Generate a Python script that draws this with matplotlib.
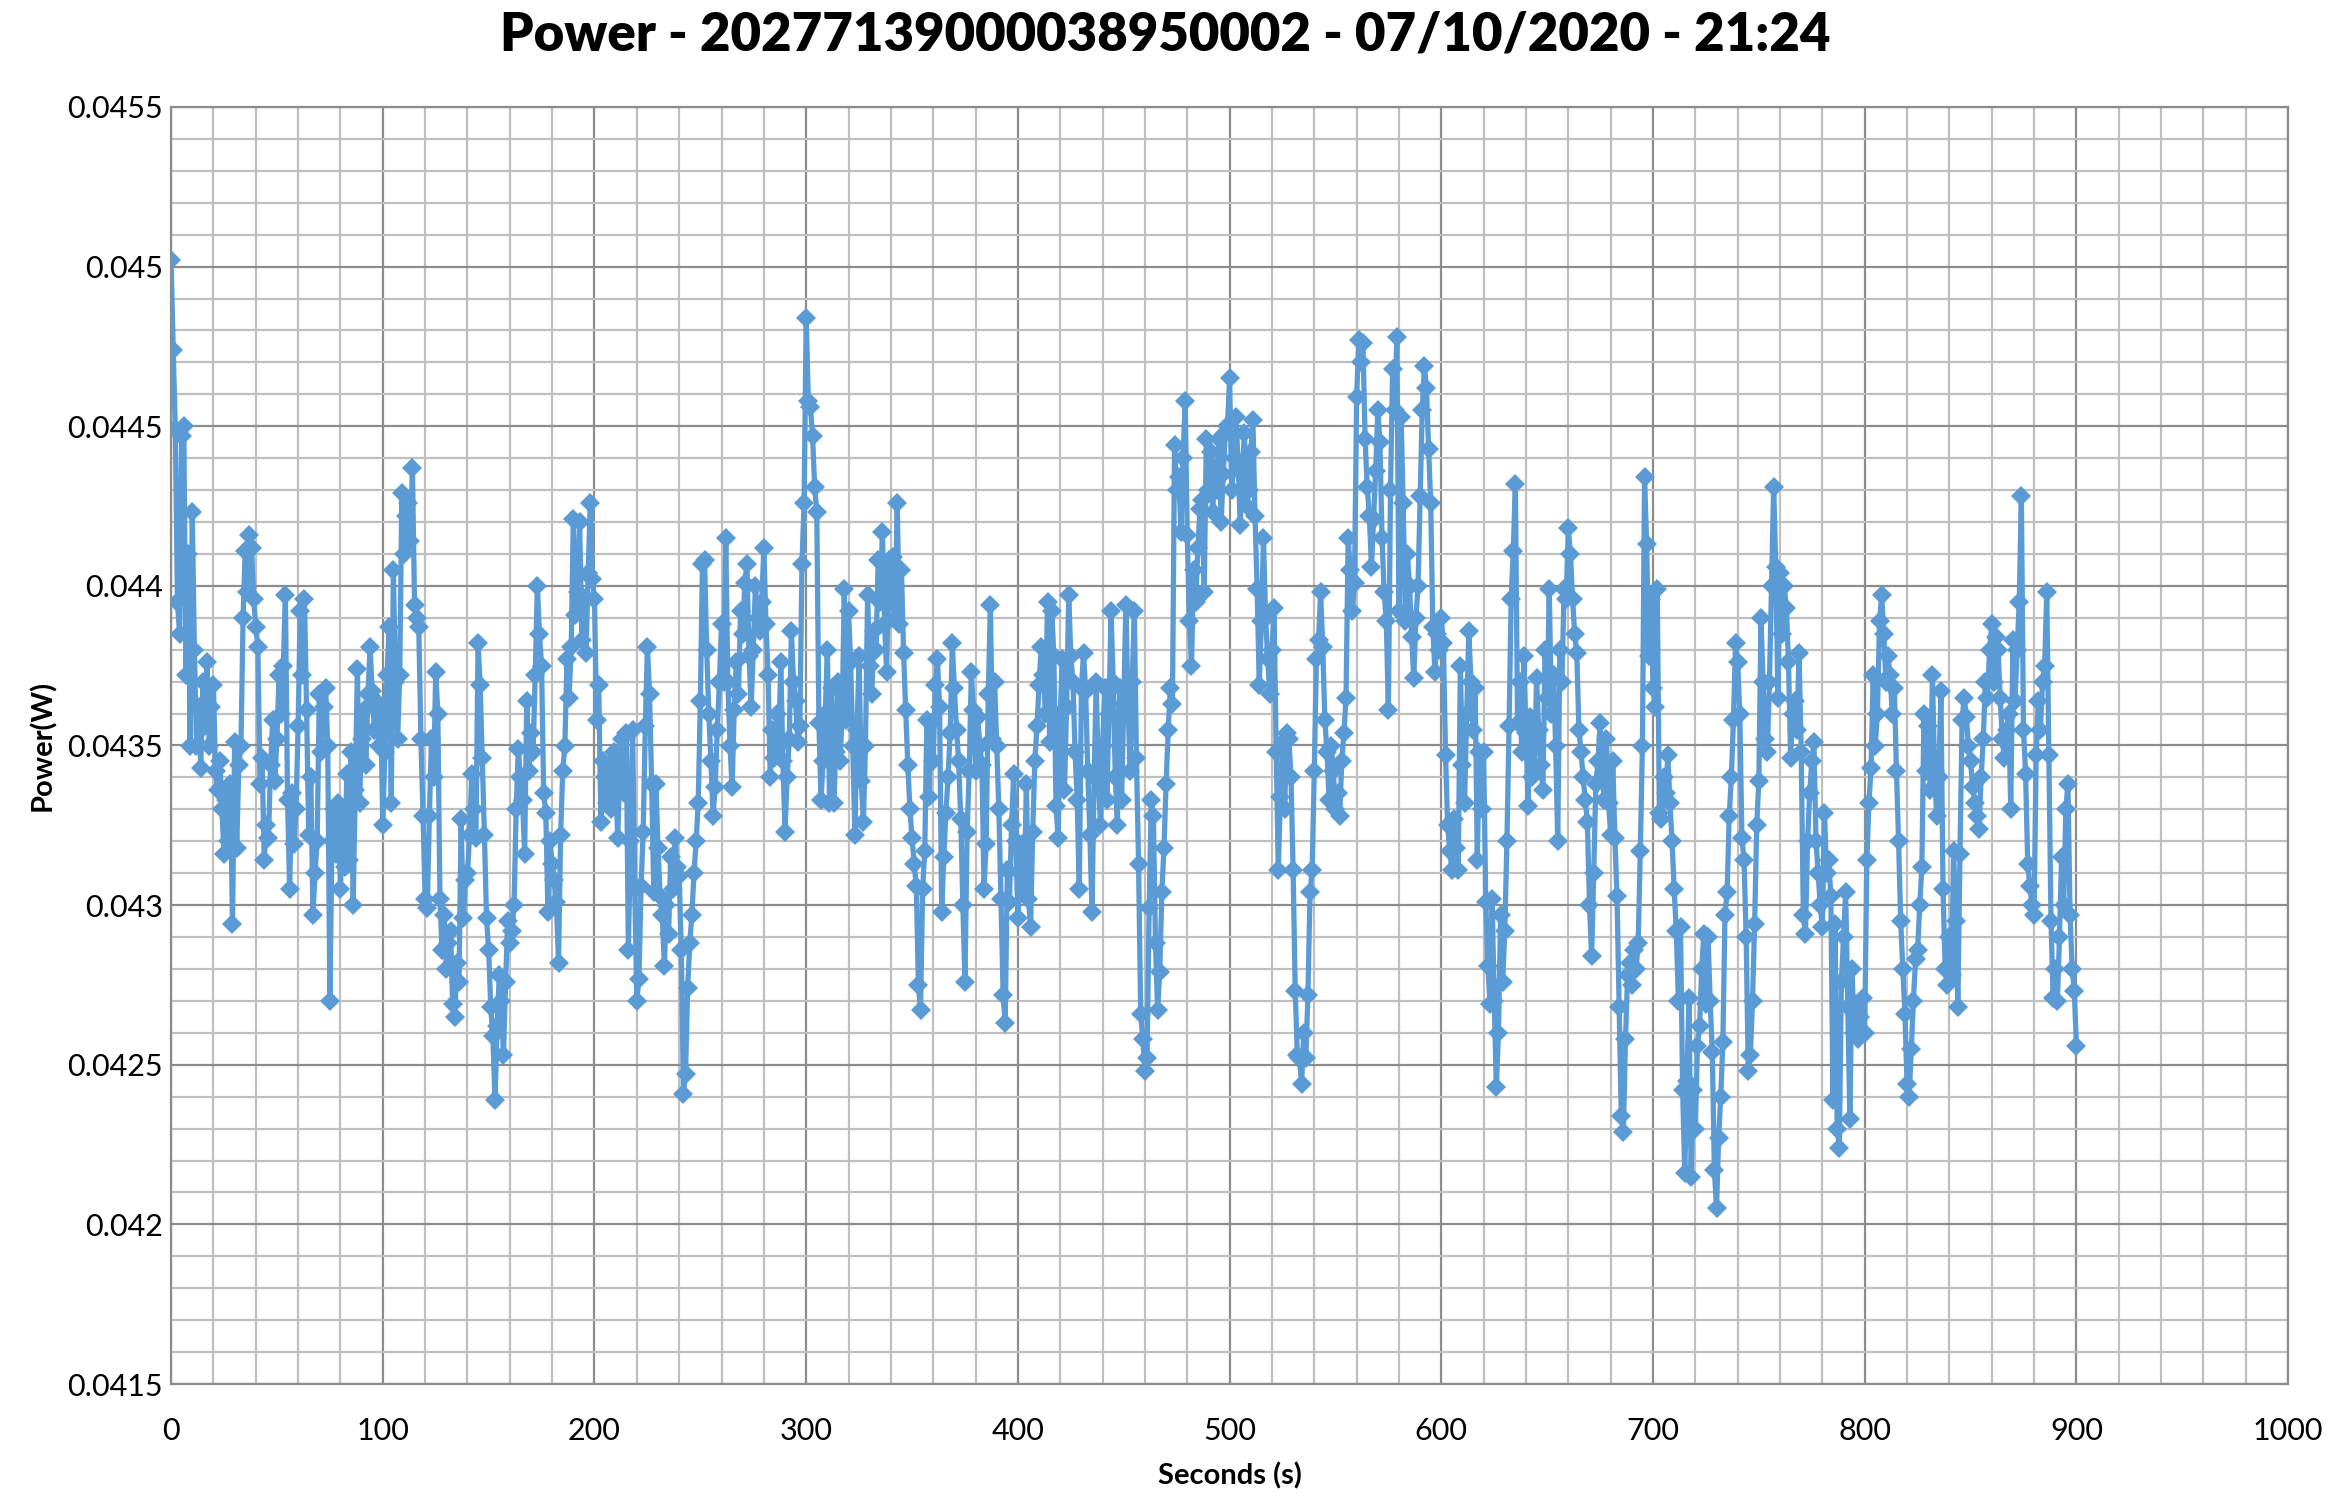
import numpy as np
import matplotlib.pyplot as plt
from matplotlib.ticker import MultipleLocator, FuncFormatter

# power readings in mW, one per second (t = 0 .. 900 s)
power_mw = [
    45.02, 44.74, 44.49, 43.95, 43.85, 44.47, 44.50, 43.72, 44.10, 43.50,  # 0
    44.23, 43.80, 43.50, 43.62, 43.43, 43.70, 43.56, 43.76, 43.50, 43.62,
    43.69, 43.42, 43.36, 43.45, 43.30, 43.16, 43.33, 43.20, 43.38, 42.94,
    43.51, 43.18, 43.44, 43.50, 43.90, 44.11, 43.98, 44.16, 44.12, 43.96,
    43.87, 43.81, 43.38, 43.46, 43.14, 43.25, 43.21, 43.44, 43.58, 43.39,
    43.52, 43.72, 43.60, 43.75, 43.97, 43.33, 43.05, 43.35, 43.19, 43.30,
    43.56, 43.92, 43.72, 43.96, 43.61, 43.22, 43.40, 42.97, 43.10, 43.20,
    43.66, 43.48, 43.62, 43.68, 43.50, 42.70, 43.20, 43.30, 43.16, 43.32,
    43.05, 43.28, 43.12, 43.41, 43.14, 43.48, 43.00, 43.36, 43.74, 43.32,
    43.52, 43.61, 43.44, 43.66, 43.81, 43.67, 43.55, 43.64, 43.50, 43.62,
    43.25, 43.48, 43.72, 43.87, 43.32, 44.05, 43.70, 43.52, 43.72, 44.29,  # 100
    44.10, 44.22, 44.26, 44.14, 44.37, 43.94, 43.90, 43.87, 43.52, 43.28,
    43.02, 42.99, 43.28, 43.52, 43.40, 43.73, 43.60, 43.02, 42.86, 42.97,
    42.80, 42.88, 42.92, 42.69, 42.65, 42.82, 42.76, 43.27, 42.96, 43.08,
    43.10, 43.22, 43.41, 43.30, 43.21, 43.82, 43.69, 43.46, 43.22, 42.96,
    42.86, 42.68, 42.59, 42.39, 42.62, 42.78, 42.70, 42.53, 42.76, 42.95,
    42.88, 42.92, 43.00, 43.30, 43.49, 43.40, 43.33, 43.16, 43.64, 43.42,
    43.54, 43.48, 43.72, 44.00, 43.85, 43.75, 43.35, 43.29, 42.98, 43.20,
    43.13, 43.08, 43.01, 42.82, 43.22, 43.42, 43.50, 43.77, 43.65, 43.81,
    44.21, 43.91, 43.98, 44.20, 43.83, 43.95, 43.79, 44.04, 44.26, 44.02,
    43.96, 43.58, 43.69, 43.26, 43.45, 43.40, 43.32, 43.44, 43.30, 43.48,  # 200
    43.38, 43.21, 43.45, 43.52, 43.35, 43.54, 42.86, 43.20, 43.55, 43.05,
    42.70, 42.77, 43.06, 43.23, 43.56, 43.81, 43.66, 43.38, 43.04, 43.38,
    43.18, 43.03, 42.97, 42.81, 43.00, 42.91, 43.15, 43.05, 43.21, 43.12,
    43.09, 42.86, 42.41, 42.47, 42.74, 42.88, 42.97, 43.10, 43.20, 43.32,
    43.64, 44.07, 44.08, 43.80, 43.60, 43.45, 43.28, 43.37, 43.55, 43.70,
    43.88, 43.70, 44.15, 43.70, 43.50, 43.37, 43.61, 43.76, 43.66, 43.92,
    43.85, 44.01, 44.07, 43.78, 43.62, 43.80, 44.00, 43.90, 43.86, 43.95,
    44.12, 43.88, 43.72, 43.40, 43.55, 43.46, 43.60, 43.50, 43.76, 43.45,
    43.23, 43.40, 43.52, 43.86, 43.70, 43.64, 43.51, 43.56, 44.07, 44.26,
    44.84, 44.58, 44.56, 44.47, 44.31, 44.23, 43.57, 43.33, 43.45, 43.60,  # 300
    43.80, 43.32, 43.68, 43.32, 43.48, 43.70, 43.45, 43.60, 43.99, 43.58,
    43.92, 43.76, 43.50, 43.22, 43.55, 43.78, 43.39, 43.26, 43.50, 43.97,
    43.75, 43.66, 43.86, 43.80, 44.08, 43.95, 44.17, 43.88, 43.73, 44.08,
    43.95, 44.09, 43.90, 44.26, 43.88, 44.05, 43.79, 43.61, 43.44, 43.30,
    43.21, 43.13, 43.06, 42.75, 42.67, 43.05, 43.17, 43.58, 43.34, 43.57,
    43.45, 43.69, 43.77, 43.62, 42.98, 43.15, 43.29, 43.40, 43.54, 43.82,
    43.68, 43.55, 43.45, 43.27, 43.00, 42.76, 43.23, 43.42, 43.73, 43.61,
    43.42, 43.59, 43.50, 43.44, 43.05, 43.19, 43.66, 43.94, 43.52, 43.70,
    43.50, 43.30, 43.02, 42.72, 42.63, 43.11, 43.01, 43.25, 43.41, 43.20,
    42.96, 43.10, 43.19, 43.05, 43.38, 43.02, 42.93, 43.23, 43.45, 43.56,  # 400
    43.69, 43.81, 43.72, 43.60, 43.95, 43.51, 43.92, 43.78, 43.31, 43.21,
    43.60, 43.77, 43.36, 43.62, 43.97, 43.78, 43.70, 43.48, 43.33, 43.05,
    43.68, 43.79, 43.67, 43.42, 43.22, 42.98, 43.40, 43.70, 43.40, 43.25,
    43.50, 43.68, 43.33, 43.60, 43.92, 43.70, 43.40, 43.25, 43.68, 43.33,
    43.63, 43.94, 43.63, 43.42, 43.70, 43.92, 43.46, 43.13, 42.66, 42.58,
    42.48, 42.52, 42.99, 43.33, 43.28, 42.88, 42.67, 42.79, 43.04, 43.18,
    43.38, 43.55, 43.68, 43.63, 44.44, 44.30, 44.34, 44.17, 44.40, 44.58,
    44.16, 43.89, 43.75, 44.05, 43.95, 44.12, 44.24, 44.27, 43.98, 44.46,
    44.30, 44.42, 44.23, 44.37, 44.30, 44.46, 44.20, 44.35, 44.48, 44.50,
    44.65, 44.30, 44.40, 44.53, 44.39, 44.19, 44.35, 44.48, 44.25, 44.30,  # 500
    44.42, 44.52, 44.22, 43.99, 43.69, 43.89, 44.15, 43.90, 43.77, 43.66,
    43.80, 43.93, 43.48, 43.11, 43.34, 43.51, 43.30, 43.54, 43.52, 43.40,
    43.11, 42.73, 42.53, 42.52, 42.44, 42.60, 42.52, 42.72, 43.04, 43.11,
    43.42, 43.77, 43.83, 43.98, 43.81, 43.58, 43.48, 43.33, 43.50, 43.42,
    43.30, 43.35, 43.28, 43.45, 43.54, 43.65, 44.15, 44.05, 43.92, 44.01,
    44.59, 44.77, 44.70, 44.76, 44.46, 44.31, 44.22, 44.06, 44.21, 44.36,
    44.55, 44.45, 44.15, 43.98, 43.89, 43.61, 44.30, 44.68, 44.55, 44.78,
    43.92, 44.53, 44.26, 43.89, 44.10, 44.00, 43.84, 43.71, 43.90, 44.00,
    44.28, 44.55, 44.69, 44.62, 44.43, 44.26, 43.87, 43.73, 43.85, 43.80,
    43.90, 43.82, 43.47, 43.25, 43.17, 43.11, 43.27, 43.18, 43.11, 43.75,  # 600
    43.44, 43.32, 43.60, 43.86, 43.70, 43.55, 43.68, 43.14, 43.48, 43.30,
    43.48, 43.01, 42.81, 42.69, 43.02, 42.70, 42.43, 42.60, 42.97, 42.76,
    42.92, 43.20, 43.56, 43.96, 44.11, 44.32, 43.57, 43.70, 43.48, 43.78,
    43.54, 43.31, 43.59, 43.40, 43.42, 43.71, 43.55, 43.44, 43.36, 43.80,
    43.65, 43.99, 43.60, 43.72, 43.50, 43.20, 43.80, 43.70, 43.99, 43.96,
    44.18, 44.10, 43.96, 43.85, 43.79, 43.55, 43.48, 43.40, 43.33, 43.26,
    43.00, 42.84, 43.10, 43.38, 43.45, 43.57, 43.40, 43.33, 43.52, 43.32,
    43.22, 43.45, 43.21, 43.03, 42.68, 42.34, 42.29, 42.58, 42.78, 42.82,
    42.75, 42.86, 42.80, 42.88, 43.17, 43.50, 44.34, 44.13, 43.78, 43.96,
    43.68, 43.62, 43.99, 43.29, 43.27, 43.40, 43.35, 43.47, 43.32, 43.20,  # 700
    43.05, 42.92, 42.70, 42.93, 42.42, 42.16, 42.45, 42.71, 42.15, 42.42,
    42.30, 42.56, 42.62, 42.80, 42.91, 42.69, 42.90, 42.70, 42.54, 42.17,
    42.05, 42.27, 42.40, 42.57, 42.97, 43.04, 43.28, 43.40, 43.58, 43.82,
    43.76, 43.60, 43.21, 43.14, 42.90, 42.48, 42.53, 42.70, 42.94, 43.25,
    43.39, 43.90, 43.70, 43.52, 43.48, 43.70, 44.00, 44.31, 44.06, 43.65,
    44.04, 43.85, 44.00, 43.93, 43.76, 43.46, 43.60, 43.64, 43.55, 43.79,
    43.48, 42.97, 42.91, 43.20, 43.35, 43.45, 43.51, 43.20, 43.10, 43.00,
    42.93, 43.29, 43.10, 43.14, 43.03, 42.39, 42.94, 42.30, 42.24, 42.76,
    42.90, 43.04, 42.68, 42.33, 42.80, 42.60, 42.69, 42.58, 42.65, 42.71,
    42.60, 43.14, 43.32, 43.43, 43.72, 43.50, 43.60, 43.89, 43.97, 43.85,  # 800
    43.70, 43.78, 43.72, 43.60, 43.68, 43.42, 43.20, 42.95, 42.80, 42.66,
    42.44, 42.40, 42.55, 42.70, 42.83, 42.86, 43.00, 43.12, 43.60, 43.42,
    43.56, 43.36, 43.72, 43.42, 43.28, 43.40, 43.67, 43.05, 42.80, 42.75,
    42.90, 42.78, 43.17, 42.95, 42.68, 43.16, 43.58, 43.65, 43.59, 43.50,
    43.45, 43.37, 43.32, 43.28, 43.24, 43.40, 43.52, 43.70, 43.65, 43.80,
    43.88, 43.70, 43.84, 43.80, 43.65, 43.52, 43.46, 43.55, 43.60, 43.30,
    43.83, 43.64, 43.80, 43.95, 44.28, 43.55, 43.41, 43.13, 43.06, 43.00,
    42.97, 43.47, 43.64, 43.55, 43.70, 43.75, 43.98, 43.47, 42.95, 42.71,
    42.80, 42.70, 42.90, 43.15, 43.00, 43.30, 43.38, 42.97, 42.80, 42.73,
    42.56,  # 900
]

seconds = np.arange(len(power_mw))
power_w = np.array(power_mw) / 1000.0

title = "Power - 20277139000038950002 - 07/10/2020 - 21:24"

plt.rcParams['font.family'] = ['Lato', 'DejaVu Sans']

fig = plt.figure(figsize=(23.31, 15.0), dpi=100)
ax = fig.add_axes([0.0734, 0.0773, 0.9082, 0.8514])

ax.plot(seconds, power_w, color="#5B9BD5", linewidth=3.8,
        marker="D", markersize=10.5, markeredgewidth=0, zorder=3)

ax.set_xlim(0, 1000)
ax.set_ylim(0.0415, 0.0455)
ax.xaxis.set_major_locator(MultipleLocator(100))
ax.xaxis.set_minor_locator(MultipleLocator(20))
ax.yaxis.set_major_locator(MultipleLocator(0.0005))
ax.yaxis.set_minor_locator(MultipleLocator(0.0001))
ax.yaxis.set_major_formatter(FuncFormatter(lambda v, p: f"{v:.4f}".rstrip("0")))

ax.grid(which="major", color="#8c8c8c", linewidth=1.6)
ax.grid(which="minor", color="#bfbfbf", linewidth=1.6)
ax.set_axisbelow(True)
ax.tick_params(which="both", length=0, labelsize=22)
ax.tick_params(axis="x", pad=24)
ax.tick_params(axis="y", pad=6)
for s in ax.spines.values():
    s.set_color("#8c8c8c")
    s.set_linewidth(1.6)

ax.set_xlabel("Seconds (s)", fontsize=21, fontweight="bold", labelpad=12)
ax.set_ylabel("Power(W)", fontsize=21, fontweight="bold", labelpad=8)
fig.suptitle(title, fontsize=38, fontweight="heavy", y=0.993)

fig.savefig("out.png", dpi=100)
